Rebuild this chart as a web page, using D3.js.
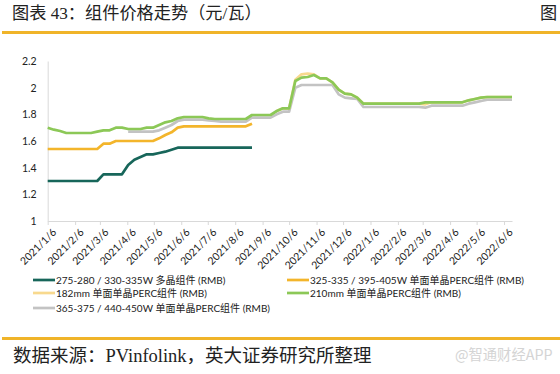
<!DOCTYPE html>
<html>
<head>
<meta charset="utf-8">
<script src="https://cdn.jsdelivr.net/npm/d3@7"></script>
<style>
  body { margin: 0; background: #fff; }
  svg { display: block; }
</style>
</head>
<body>
<div id="chart"></div>
<script>
// weekly quotes, first one on 2021/1/6
const startDate = new Date(2021, 0, 6);
const weeks = 76;
const dates = d3.range(weeks).map(i => d3.timeDay.offset(startDate, 7 * i));

// month ticks on the 6th
const tickDates = d3.range(18).map(i => new Date(2021, i, 6));
const yTicks = [1, 1.2, 1.4, 1.6, 1.8, 2, 2.2];

const seriesNames = [
  "275-280 / 330-335W 多晶组件 (RMB)",
  "325-335 / 395-405W 单面单晶PERC组件 (RMB)",
  "182mm 单面单晶PERC组件 (RMB)",
  "210mm 单面单晶PERC组件 (RMB)",
  "365-375 / 440-450W 单面单晶PERC组件 (RMB)"
];

const poly = [1.30,1.30,1.30,1.30,1.30,1.30,1.30,1.30,1.30,
  1.35,1.35,1.35,1.35,
  1.42,1.46,1.48,1.50,1.50,1.51,1.52,1.535,
  1.55,1.55,1.55,1.55,1.55,1.55,1.55,1.55,1.55,1.55,1.55,1.55,1.55]
  .concat(Array(42).fill(null));

const mono335 = [1.54,1.54,1.54,1.54,1.54,1.54,1.54,1.54,1.54,
  1.58,1.58,
  1.60,1.60,1.60,1.60,1.60,1.60,1.60,
  1.62,1.645,1.665,1.70,
  1.71,1.71,1.71,1.71,1.71,1.71,1.71,1.71,1.71,1.71,1.71,
  1.73]
  .concat(Array(42).fill(null));

const mono182 = Array(37).fill(null).concat([
  1.825,1.845,1.845,2.06,2.10,2.105,2.10,2.07,2.07,2.04,1.985,1.955,1.95,1.925,
  1.88,1.88,1.88,1.88,1.88,1.88,1.88,1.88,1.88,1.88,
  1.875,1.89,1.89,1.89,1.89,1.89,1.89,
  1.905,1.915,1.925,1.93,1.93,1.93,1.93,1.93]);

const mono210 = [1.70,1.685,1.675,1.66,1.66,1.66,1.66,1.66,1.67,1.68,1.68,1.70,1.70,
  1.69,1.69,1.69,1.70,1.70,1.72,1.74,1.75,1.77,
  1.78,1.78,1.78,1.78,1.77,
  1.765,1.765,1.765,1.765,1.765,1.765,
  1.795,1.795,1.795,1.795,1.825,1.845,1.845,
  2.05,2.075,2.08,2.095,2.07,2.07,2.04,1.985,1.955,1.95,1.925,
  1.88,1.88,1.88,1.88,1.88,1.88,1.88,1.88,1.88,1.88,
  1.89,1.89,1.89,1.89,1.89,1.89,1.89,
  1.905,1.915,1.925,1.93,1.93,1.93,1.93,1.93];

const mono440 = Array(13).fill(null).concat([
  1.67,1.67,1.67,1.67,1.67,
  1.68,1.70,1.72,1.75,
  1.76,1.76,1.76,1.76,1.755,1.75,
  1.745,1.745,1.745,1.745,1.745,
  1.775,1.775,1.775,1.775,1.80,1.82,1.82,
  2.00,2.02,2.02,2.02,2.02,2.02,2.02,
  1.95,1.925,1.92,1.915,
  1.855,1.855,1.855,1.855,1.855,1.855,1.855,1.855,1.855,1.855,
  1.85,1.865,1.865,1.865,1.865,1.865,1.865,
  1.88,1.89,1.90,1.91,1.91,1.91,1.91,1.91]);

const colors = ["#17665a", "#f3b52b", "#f8d98e", "#8cc857", "#c3c3c3"];
const seriesValues = [poly, mono335, mono182, mono210, mono440];
// drawing order: gray below the green ones
const drawOrder = [0, 1, 4, 2, 3];

const width = 560, height = 374;
const svg = d3.select("#chart").append("svg")
  .attr("width", width)
  .attr("height", height);

const cjk = "'Liberation Serif', 'Noto Sans CJK SC', serif";
const lab = "Lato, 'Noto Sans CJK SC', sans-serif";

// header
svg.append("text")
  .attr("x", 12).attr("y", 19)
  .attr("font-family", cjk).attr("font-size", 17.2)
  .attr("fill", "#222")
  .text("图表 43：组件价格走势（元/瓦）");
svg.append("text")
  .attr("x", 540).attr("y", 19)
  .attr("font-family", cjk).attr("font-size", 17.2)
  .attr("fill", "#222")
  .text("图");
svg.append("rect").attr("x", 2).attr("y", 31).attr("width", 558).attr("height", 3).attr("fill", "#f0b429");

// footer
svg.append("rect").attr("x", 2).attr("y", 337).attr("width", 558).attr("height", 3).attr("fill", "#f0b429");
svg.append("text")
  .attr("x", 13).attr("y", 362)
  .attr("font-family", cjk).attr("font-size", 18.5)
  .attr("fill", "#222")
  .text("数据来源：PVinfolink，英大证券研究所整理");
svg.append("text")
  .attr("x", 455).attr("y", 360)
  .attr("font-family", "'Noto Sans CJK SC', sans-serif").attr("font-size", 14.3)
  .attr("fill", "#d4d4d4")
  .text("@智通财经APP");

// scales
const x = d3.scaleTime()
  .domain([startDate, d3.timeDay.offset(startDate, 7 * (weeks - 1))])
  .range([47.7, 512]);
const y = d3.scaleLinear().domain([1, 2.2]).range([221, 61]);

// y axis
const yAxis = svg.append("g")
  .attr("transform", "translate(47.7,0)")
  .call(d3.axisLeft(y).tickValues(yTicks).tickSize(0).tickPadding(11).tickFormat(d3.format("~g")));
yAxis.select(".domain").attr("stroke", "#d9d9d9");
yAxis.selectAll("text").attr("font-family", lab).attr("font-size", 10.5).attr("fill", "#222");

// x axis
const fmt = d3.timeFormat("%Y/%-m/%-d");
const xAxis = svg.append("g")
  .attr("transform", "translate(0,221)")
  .call(d3.axisBottom(x).tickValues(tickDates).tickSize(4).tickSizeOuter(0).tickFormat(fmt));
xAxis.select(".domain").attr("stroke", "#d9d9d9");
xAxis.selectAll(".tick line").attr("stroke", "#d9d9d9");
xAxis.selectAll("text")
  .attr("font-family", lab).attr("font-size", 10.5).attr("fill", "#222")
  .attr("text-anchor", "end")
  .attr("dy", 0)
  .attr("transform", "translate(4,7) rotate(-45)");

// lines
const line = d3.line()
  .defined(d => d.v != null)
  .x(d => x(d.date))
  .y(d => y(d.v));

drawOrder.forEach(k => {
  const pts = dates.map((date, i) => ({ date, v: seriesValues[k][i] }));
  svg.append("path")
    .datum(pts)
    .attr("fill", "none")
    .attr("stroke", colors[k])
    .attr("stroke-width", 2.7)
    .attr("stroke-linejoin", "round")
    .attr("d", line);
});

// legend
const legendPos = [
  { x: 33, y: 280 },
  { x: 287, y: 280 },
  { x: 33, y: 293 },
  { x: 287, y: 293 },
  { x: 33, y: 308 }
];
const legend = svg.append("g")
  .selectAll("g")
  .data(seriesNames)
  .join("g")
  .attr("transform", (d, i) => `translate(${legendPos[i].x},${legendPos[i].y})`);
legend.append("line")
  .attr("x1", 0).attr("x2", 22)
  .attr("stroke", (d, i) => colors[i])
  .attr("stroke-width", 2.7);
legend.append("text")
  .attr("x", 23).attr("dy", "0.35em")
  .attr("font-family", lab).attr("font-size", 10)
  .attr("fill", "#222")
  .text(d => d);
</script>
</body>
</html>
